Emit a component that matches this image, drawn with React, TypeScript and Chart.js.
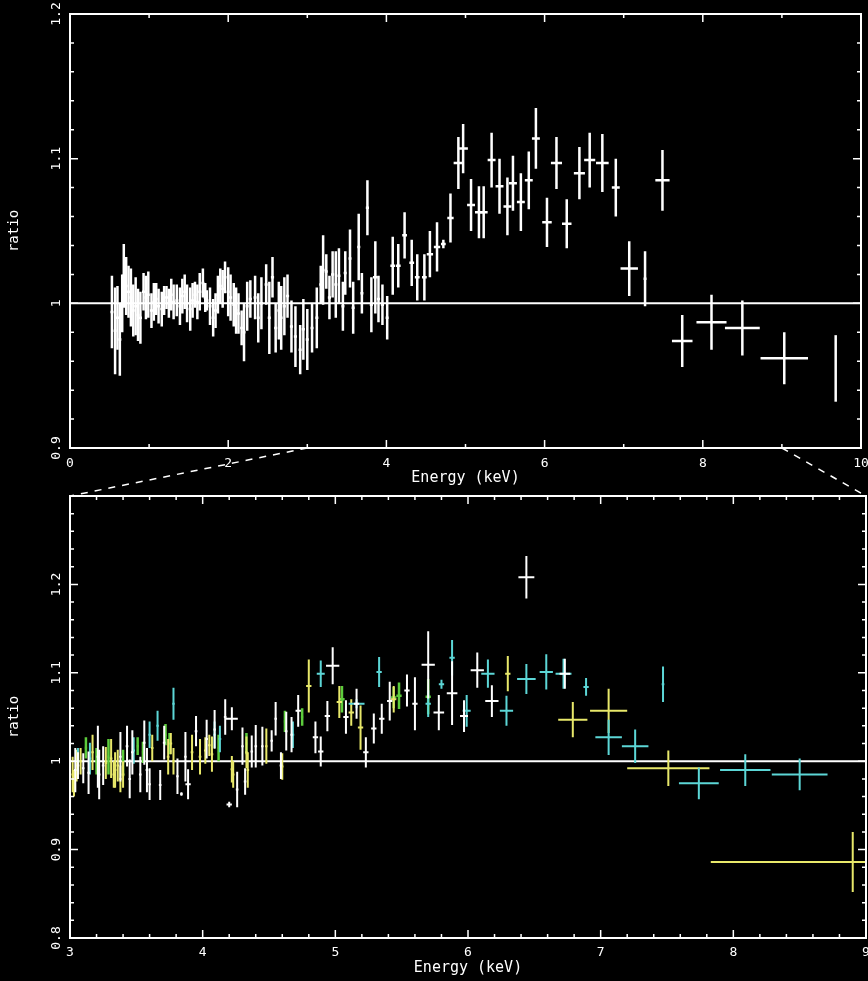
import React, { useEffect, useRef } from 'react';
import { Chart, registerables } from 'chart.js';
Chart.register(...registerables);

// ---------------- axis ranges / ticks ----------------
const topXRange = [0, 10];
const topYRange = [0.9, 1.2];
const bottomXRange = [3, 9];
const bottomYRange = [0.8, 1.3];
const topXSteps = [1, 2]; // minor, major
const topYSteps = [0.02, 0.1];
const bottomXSteps = [0.2, 1];
const bottomYSteps = [0.02, 0.1];
const xTitle = 'Energy (keV)';
const yTitle = 'ratio';

// ---------------- top panel (full band) ----------------
const topEnergy = [0.53, 0.57, 0.6, 0.63, 0.66, 0.68, 0.71, 0.74, 0.77, 0.8, 0.83, 0.86, 0.89, 0.93, 0.96, 0.99, 1.03, 1.06, 1.09, 1.12, 1.16, 1.19, 1.22, 1.25, 1.28, 1.31, 1.35, 1.39, 1.42, 1.45, 1.48, 1.52, 1.55, 1.58, 1.61, 1.64, 1.68, 1.71, 1.73, 1.77, 1.81, 1.84, 1.87, 1.9, 1.93, 1.96, 2.0, 2.03, 2.07, 2.1, 2.13, 2.17, 2.2, 2.24, 2.28, 2.34, 2.38, 2.42, 2.48, 2.52, 2.56, 2.6, 2.64, 2.67, 2.71, 2.75, 2.8, 2.85, 2.91, 2.95, 3.0, 3.06, 3.12, 3.17, 3.2, 3.24, 3.28, 3.32, 3.36, 3.4, 3.45, 3.48, 3.54, 3.58, 3.65, 3.69, 3.76, 3.81, 3.86, 3.9, 3.95, 4.01, 4.08, 4.15, 4.23, 4.32, 4.39, 4.48, 4.55, 4.64, 4.72, 4.81, 4.91, 4.97, 5.07, 5.17, 5.23, 5.33, 5.43, 5.53, 5.6, 5.7, 5.8, 5.89, 6.03, 6.15, 6.28, 6.44, 6.57, 6.73, 6.9, 7.07, 7.27, 7.49, 7.74, 8.11, 8.5, 9.03, 9.68];
const topRatio = [0.994, 0.981, 0.99, 0.975, 1.0, 1.019, 1.012, 1.008, 1.004, 0.995, 0.998, 0.992, 0.99, 1.008, 1.004, 1.006, 0.995, 1.001, 1.003, 0.998, 0.996, 1.002, 1.004, 1.0, 1.006, 1.001, 1.002, 0.998, 1.005, 1.008, 1.0, 0.996, 1.002, 1.006, 1.001, 1.008, 1.014, 1.004, 1.002, 0.998, 0.99, 0.995, 1.006, 1.012, 1.01, 1.018, 1.008, 1.004, 0.999, 0.995, 0.993, 0.983, 0.98, 0.998, 1.003, 1.004, 0.99, 1.0, 1.013, 0.99, 1.018, 0.983, 0.995, 0.99, 0.998, 1.005, 0.984, 0.977, 0.968, 0.982, 0.975, 0.983, 0.99, 1.013, 1.023, 1.022, 1.004, 1.02, 1.013, 1.019, 0.998, 1.021, 1.031, 0.997, 1.039, 1.007, 1.066, 0.999, 1.018, 1.003, 0.999, 0.99, 1.026, 1.026, 1.047, 1.028, 1.018, 1.018, 1.034, 1.039, 1.041, 1.059, 1.097, 1.107, 1.068, 1.063, 1.063, 1.099, 1.081, 1.067, 1.083, 1.07, 1.085, 1.114, 1.056, 1.097, 1.055, 1.09, 1.099, 1.097, 1.08, 1.024, 1.017, 1.085, 0.974, 0.987, 0.983, 0.962, 0.955];
const topRatioErr = [0.025, 0.03, 0.022, 0.025, 0.02, 0.022, 0.02, 0.018, 0.02, 0.018, 0.02, 0.018, 0.018, 0.013, 0.015, 0.016, 0.012, 0.013, 0.011, 0.012, 0.012, 0.01, 0.008, 0.01, 0.011, 0.012, 0.011, 0.013, 0.012, 0.012, 0.013, 0.015, 0.012, 0.009, 0.012, 0.013, 0.01, 0.01, 0.007, 0.013, 0.013, 0.012, 0.013, 0.012, 0.013, 0.011, 0.017, 0.016, 0.015, 0.016, 0.014, 0.012, 0.02, 0.017, 0.013, 0.015, 0.017, 0.018, 0.014, 0.025, 0.014, 0.017, 0.02, 0.022, 0.02, 0.015, 0.018, 0.021, 0.017, 0.021, 0.021, 0.017, 0.021, 0.013, 0.024, 0.012, 0.015, 0.016, 0.023, 0.019, 0.017, 0.015, 0.02, 0.018, 0.023, 0.014, 0.019, 0.019, 0.025, 0.016, 0.014, 0.015, 0.02, 0.015, 0.016, 0.016, 0.016, 0.016, 0.016, 0.017, 0.003, 0.017, 0.018, 0.017, 0.018, 0.018, 0.018, 0.019, 0.019, 0.02, 0.019, 0.02, 0.02, 0.021, 0.017, 0.018, 0.017, 0.018, 0.019, 0.02, 0.02, 0.019, 0.019, 0.021, 0.018, 0.019, 0.019, 0.018, 0.023];
const topEnergyErr = [0.02, 0.02, 0.02, 0.02, 0.02, 0.02, 0.02, 0.02, 0.02, 0.02, 0.02, 0.02, 0.02, 0.02, 0.02, 0.02, 0.02, 0.02, 0.02, 0.02, 0.02, 0.02, 0.02, 0.02, 0.02, 0.02, 0.02, 0.02, 0.02, 0.02, 0.02, 0.02, 0.02, 0.02, 0.02, 0.02, 0.02, 0.02, 0.02, 0.02, 0.02, 0.02, 0.02, 0.02, 0.02, 0.02, 0.02, 0.02, 0.02, 0.02, 0.02, 0.02, 0.02, 0.02, 0.02, 0.02, 0.02, 0.02, 0.02, 0.02, 0.02, 0.02, 0.02, 0.02, 0.02, 0.02, 0.02, 0.02, 0.02, 0.02, 0.02, 0.02, 0.02, 0.02, 0.02, 0.02, 0.02, 0.02, 0.02, 0.02, 0.02, 0.02, 0.02, 0.02, 0.02, 0.02, 0.02, 0.02, 0.03, 0.02, 0.02, 0.02, 0.03, 0.03, 0.03, 0.03, 0.03, 0.03, 0.04, 0.04, 0.03, 0.04, 0.06, 0.06, 0.05, 0.05, 0.05, 0.05, 0.05, 0.05, 0.05, 0.05, 0.05, 0.05, 0.06, 0.07, 0.06, 0.07, 0.07, 0.08, 0.05, 0.11, 0.02, 0.09, 0.13, 0.19, 0.22, 0.3, 0];

// ---------------- bottom panel (zoom 3-9 keV), four instruments ----------------
const whiteEnergy = [3.04, 3.06, 3.1, 3.14, 3.21, 3.22, 3.25, 3.38, 3.43, 3.45, 3.47, 3.53, 3.56, 3.58, 3.6, 3.68, 3.71, 3.81, 3.84, 3.87, 3.89, 3.95, 4.03, 4.09, 4.17, 4.2, 4.22, 4.26, 4.3, 4.32, 4.37, 4.4, 4.45, 4.52, 4.55, 4.59, 4.63, 4.67, 4.72, 4.85, 4.89, 4.94, 4.98, 5.08, 5.16, 5.23, 5.29, 5.35, 5.41, 5.54, 5.6, 5.7, 5.78, 5.88, 5.97, 6.07, 6.18, 6.44, 6.73];
const whiteRatio = [0.99, 0.995, 0.992, 0.987, 1.005, 0.985, 0.995, 1.005, 1.017, 0.98, 1.01, 0.985, 1.021, 0.99, 0.974, 0.973, 1.021, 0.983, 0.963, 1.005, 0.974, 1.034, 1.025, 1.036, 1.05, 0.951, 1.048, 0.968, 1.017, 0.977, 1.011, 1.017, 1.017, 1.023, 1.048, 0.995, 1.034, 1.03, 1.057, 1.027, 1.011, 1.051, 1.108, 1.05, 1.065, 1.01, 1.037, 1.048, 1.068, 1.08, 1.065, 1.109, 1.055, 1.077, 1.051, 1.103, 1.068, 1.208, 1.099];
const whiteRatioErr = [0.025, 0.015, 0.017, 0.024, 0.035, 0.028, 0.022, 0.028, 0.023, 0.022, 0.025, 0.02, 0.025, 0.025, 0.018, 0.017, 0.019, 0.02, 0.002, 0.028, 0.017, 0.017, 0.022, 0.022, 0.02, 0.003, 0.013, 0.02, 0.021, 0.015, 0.018, 0.024, 0.022, 0.012, 0.019, 0.015, 0.022, 0.02, 0.018, 0.018, 0.017, 0.017, 0.021, 0.019, 0.017, 0.017, 0.017, 0.017, 0.022, 0.018, 0.03, 0.038, 0.02, 0.036, 0.018, 0.02, 0.018, 0.024, 0.017];
const whiteEnergyErr = [0.01, 0.01, 0.01, 0.01, 0.01, 0.01, 0.01, 0.01, 0.01, 0.01, 0.01, 0.01, 0.01, 0.01, 0.01, 0.01, 0.01, 0.01, 0.01, 0.01, 0.02, 0.01, 0.01, 0.01, 0.01, 0.02, 0.045, 0.01, 0.01, 0.01, 0.01, 0.01, 0.01, 0.01, 0.01, 0.01, 0.01, 0.01, 0.02, 0.02, 0.02, 0.02, 0.05, 0.02, 0.02, 0.02, 0.02, 0.02, 0.02, 0.02, 0.02, 0.05, 0.04, 0.04, 0.03, 0.05, 0.05, 0.06, 0.04];

const yellowEnergy = [3.02, 3.03, 3.05, 3.08, 3.17, 3.27, 3.31, 3.33, 3.34, 3.36, 3.38, 3.4, 3.62, 3.74, 3.76, 3.78, 3.92, 3.98, 4.02, 4.05, 4.07, 4.22, 4.23, 4.33, 4.34, 4.48, 4.6, 4.8, 5.03, 5.12, 5.19, 5.44, 6.3, 6.79, 7.06, 7.51, 8.9];
const yellowRatio = [0.985, 0.975, 0.995, 1.0, 1.01, 0.998, 1.003, 0.985, 0.99, 0.995, 0.98, 0.985, 1.015, 1.005, 1.02, 1.0, 1.01, 1.005, 1.012, 1.018, 1.008, 0.991, 0.985, 1.01, 0.99, 1.017, 0.994, 1.085, 1.067, 1.055, 1.038, 1.07, 1.099, 1.047, 1.057, 0.992, 0.886];
const yellowRatioErr = [0.02, 0.015, 0.018, 0.015, 0.02, 0.018, 0.022, 0.015, 0.02, 0.018, 0.015, 0.015, 0.015, 0.02, 0.012, 0.015, 0.02, 0.02, 0.015, 0.012, 0.02, 0.015, 0.015, 0.018, 0.02, 0.02, 0.015, 0.03, 0.018, 0.015, 0.025, 0.015, 0.02, 0.02, 0.025, 0.02, 0.034];
const yellowEnergyErr = [0.01, 0.01, 0.01, 0.01, 0.01, 0.01, 0.01, 0.01, 0.01, 0.01, 0.01, 0.01, 0.01, 0.01, 0.01, 0.01, 0.01, 0.01, 0.01, 0.01, 0.01, 0.01, 0.01, 0.01, 0.01, 0.01, 0.01, 0.02, 0.02, 0.02, 0.02, 0.02, 0.02, 0.11, 0.14, 0.31, 1.07];

const greenEnergy = [3.12, 3.2, 3.29, 3.4, 3.51, 3.55, 3.72, 3.75, 4.12, 4.33, 4.62, 4.75, 5.05, 5.44, 5.48, 5.7];
const greenRatio = [1.015, 1.0, 1.005, 0.998, 1.017, 1.01, 1.03, 1.02, 1.015, 1.02, 1.045, 1.05, 1.07, 1.072, 1.074, 1.073];
const greenRatioErr = [0.012, 0.015, 0.02, 0.015, 0.01, 0.012, 0.012, 0.012, 0.015, 0.012, 0.012, 0.01, 0.015, 0.012, 0.015, 0.02];
const greenEnergyErr = [0.01, 0.01, 0.01, 0.01, 0.01, 0.01, 0.01, 0.01, 0.01, 0.01, 0.01, 0.01, 0.02, 0.02, 0.02, 0.02];

const cyanEnergy = [3.06, 3.15, 3.48, 3.6, 3.66, 3.78, 4.09, 4.13, 4.68, 4.89, 5.16, 5.33, 5.7, 5.8, 5.88, 5.99, 6.15, 6.29, 6.44, 6.59, 6.72, 6.89, 7.06, 7.26, 7.47, 7.74, 8.09, 8.5];
const cyanRatio = [1.0, 1.003, 1.012, 1.03, 1.04, 1.065, 1.03, 1.025, 1.03, 1.099, 1.065, 1.101, 1.065, 1.087, 1.117, 1.057, 1.099, 1.057, 1.093, 1.101, 1.099, 1.084, 1.027, 1.017, 1.087, 0.975, 0.99, 0.985];
const cyanRatioErr = [0.015, 0.018, 0.015, 0.015, 0.017, 0.018, 0.015, 0.015, 0.015, 0.015, 0.005, 0.017, 0.015, 0.005, 0.02, 0.018, 0.016, 0.017, 0.017, 0.02, 0.017, 0.01, 0.02, 0.019, 0.02, 0.018, 0.018, 0.018];
const cyanEnergyErr = [0.01, 0.01, 0.01, 0.01, 0.01, 0.01, 0.01, 0.01, 0.01, 0.03, 0.06, 0.02, 0.02, 0.02, 0.02, 0.03, 0.05, 0.05, 0.07, 0.05, 0.06, 0.02, 0.1, 0.1, 0.01, 0.15, 0.19, 0.21];

const unityRatio = 1;

// ---------------- styles ----------------
const FONT = 'DejaVu Sans Mono';
const WHITE = '#ffffff';
const YELLOW = '#e8e86a';
const GREEN = '#5ccc3c';
const CYAN = '#5cd6d6';
const TOP_H = 490;
const BOTTOM_TOP = 440;
const BOTTOM_H = 541;
const W = 868;

const isMultiple = (v: number, step: number) => Math.abs(v / step - Math.round(v / step)) < 1e-6;
const fmt = (v: number) => String(parseFloat(v.toFixed(2)));

function series(e: number[], r: number[], re: number[], ee: number[], color: string, barWidth: number) {
  return {
    label: color,
    data: e.map((x, i) => ({ x, y: r[i] })),
    errX: ee,
    errY: re,
    barWidth,
    borderColor: color,
    backgroundColor: color,
    pointRadius: 0,
    showLine: false,
  };
}

function unityLine(range: number[]) {
  return {
    label: 'unity',
    data: [{ x: range[0], y: unityRatio }, { x: range[1], y: unityRatio }],
    borderColor: WHITE,
    borderWidth: 2,
    pointRadius: 0,
    showLine: true,
  };
}

const errorBarPlugin = {
  id: 'errorBars',
  afterDatasetsDraw(chart: any) {
    const { ctx, chartArea: a, scales } = chart;
    const xs = scales.x, ys = scales.y;
    ctx.save();
    ctx.beginPath();
    ctx.rect(a.left, a.top, a.right - a.left, a.bottom - a.top);
    ctx.clip();
    chart.data.datasets.forEach((ds: any) => {
      if (!ds.errX) return;
      ctx.strokeStyle = ds.borderColor;
      ctx.lineWidth = ds.barWidth;
      ds.data.forEach((p: any, i: number) => {
        const px = xs.getPixelForValue(p.x);
        const py = ys.getPixelForValue(p.y);
        const x0 = xs.getPixelForValue(p.x - ds.errX[i]);
        const x1 = xs.getPixelForValue(p.x + ds.errX[i]);
        const y0 = ys.getPixelForValue(p.y - ds.errY[i]);
        const y1 = ys.getPixelForValue(p.y + ds.errY[i]);
        ctx.beginPath();
        ctx.moveTo(x0, py);
        ctx.lineTo(x1, py);
        ctx.moveTo(px, y0);
        ctx.lineTo(px, y1);
        ctx.stroke();
      });
    });
    ctx.restore();
  },
};

const frameTicksPlugin = {
  id: 'frameTicks',
  afterDraw(chart: any, _args: any, opts: any) {
    const { ctx, chartArea: a, scales } = chart;
    const xs = scales.x, ys = scales.y;
    ctx.save();
    ctx.strokeStyle = WHITE;
    ctx.lineWidth = 2;
    ctx.strokeRect(a.left, a.top, a.right - a.left, a.bottom - a.top);
    ctx.lineWidth = 1.5;
    ctx.beginPath();
    xs.ticks.forEach((t: any) => {
      const px = xs.getPixelForValue(t.value);
      const len = isMultiple(t.value, opts.xMajor) ? opts.majorLen : opts.minorLen;
      ctx.moveTo(px, a.bottom); ctx.lineTo(px, a.bottom - len);
      ctx.moveTo(px, a.top); ctx.lineTo(px, a.top + len);
    });
    ys.ticks.forEach((t: any) => {
      const py = ys.getPixelForValue(t.value);
      const len = isMultiple(t.value, opts.yMajor) ? opts.majorLen : opts.minorLen;
      ctx.moveTo(a.left, py); ctx.lineTo(a.left + len, py);
      ctx.moveTo(a.right, py); ctx.lineTo(a.right - len, py);
    });
    ctx.stroke();
    ctx.restore();
  },
};

function makeOptions(xr: number[], yr: number[], xSteps: number[], ySteps: number[], yw: number, xh: number, padding: any, yLabelMax: number, titleBottomPad: number, tickPad: number) {
  return {
    responsive: false,
    animation: false,
    events: [],
    layout: { padding },
    plugins: {
      legend: { display: false },
      tooltip: { enabled: false },
      frameTicks: { xMajor: xSteps[1], yMajor: ySteps[1], majorLen: 8, minorLen: 4 },
    },
    scales: {
      x: {
        type: 'linear',
        min: xr[0],
        max: xr[1],
        grid: { display: false, drawTicks: false },
        border: { display: false },
        ticks: {
          stepSize: xSteps[0],
          autoSkip: false,
          maxRotation: 0,
          minRotation: 0,
          padding: tickPad,
          color: WHITE,
          font: { family: FONT, size: 13 },
          callback: (v: number) => (isMultiple(v, xSteps[1]) ? fmt(v) : ''),
        },
        title: { display: true, text: xTitle, color: WHITE, font: { family: FONT, size: 15 }, padding: { top: 0, bottom: titleBottomPad } },
        afterFit: (s: any) => { s.height = xh; s.paddingLeft = 0; s.paddingRight = 0; },
      },
      y: {
        type: 'linear',
        min: yr[0],
        max: yr[1],
        grid: { display: false, drawTicks: false },
        border: { display: false },
        ticks: {
          stepSize: ySteps[0],
          autoSkip: false,
          minRotation: 90,
          maxRotation: 90,
          crossAlign: 'center',
          padding: 2,
          color: WHITE,
          font: { family: FONT, size: 13 },
          callback: (v: number) => (isMultiple(v, ySteps[1]) && v < yLabelMax ? fmt(v) : ''),
        },
        title: { display: true, text: yTitle, color: WHITE, font: { family: FONT, size: 14 }, padding: { top: 6, bottom: 0 } },
        afterFit: (s: any) => { s.width = yw; s.paddingTop = 0; s.paddingBottom = 0; },
      },
    },
  };
}

export default function App() {
  const topRef = useRef<HTMLCanvasElement>(null);
  const botRef = useRef<HTMLCanvasElement>(null);

  useEffect(() => {
    document.body.style.margin = '0';
    document.body.style.background = '#000';
    const topChart = new Chart(topRef.current as HTMLCanvasElement, {
      type: 'scatter',
      data: {
        datasets: [
          unityLine(topXRange),
          series(topEnergy, topRatio, topRatioErr, topEnergyErr, WHITE, 2.5),
        ],
      },
      options: makeOptions(topXRange, topYRange, topXSteps, topYSteps, 70, 42, { top: 14, right: 7, left: 0, bottom: 0 }, 1.25, 3, 8) as any,
      plugins: [errorBarPlugin, frameTicksPlugin],
    });

    const connectorPlugin = {
      id: 'connector',
      afterDraw(chart: any) {
        const { ctx, chartArea: a } = chart;
        const xs = topChart.scales.x;
        const yFrom = topChart.chartArea.bottom - BOTTOM_TOP;
        ctx.save();
        ctx.strokeStyle = WHITE;
        ctx.lineWidth = 1.5;
        ctx.setLineDash([7, 7]);
        ctx.beginPath();
        ctx.moveTo(xs.getPixelForValue(bottomXRange[0]), yFrom);
        ctx.lineTo(a.left, a.top);
        ctx.moveTo(xs.getPixelForValue(bottomXRange[1]), yFrom);
        ctx.lineTo(a.right, a.top);
        ctx.stroke();
        ctx.restore();
      },
    };

    const botChart = new Chart(botRef.current as HTMLCanvasElement, {
      type: 'scatter',
      data: {
        datasets: [
          unityLine(bottomXRange),
          series(greenEnergy, greenRatio, greenRatioErr, greenEnergyErr, GREEN, 2.5),
          series(yellowEnergy, yellowRatio, yellowRatioErr, yellowEnergyErr, YELLOW, 2),
          series(cyanEnergy, cyanRatio, cyanRatioErr, cyanEnergyErr, CYAN, 2),
          series(whiteEnergy, whiteRatio, whiteRatioErr, whiteEnergyErr, WHITE, 2),
        ],
      },
      options: makeOptions(bottomXRange, bottomYRange, bottomXSteps, bottomYSteps, 70, 43, { top: 56, right: 2, left: 0, bottom: 0 }, 1.25, 4, 7) as any,
      plugins: [errorBarPlugin, frameTicksPlugin, connectorPlugin],
    });

    return () => {
      botChart.destroy();
      topChart.destroy();
    };
  }, []);

  return (
    <div style={{ position: 'relative', width: W, height: 981, background: '#000', overflow: 'hidden' }}>
      <canvas ref={topRef} width={W} height={TOP_H} style={{ position: 'absolute', left: 0, top: 0 }} />
      <canvas ref={botRef} width={W} height={BOTTOM_H} style={{ position: 'absolute', left: 0, top: BOTTOM_TOP }} />
    </div>
  );
}
